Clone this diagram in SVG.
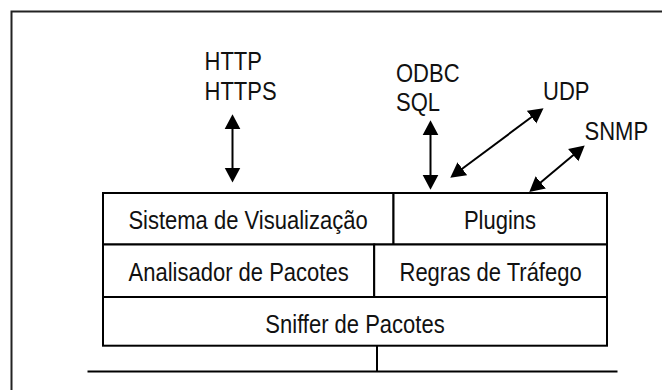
<svg xmlns="http://www.w3.org/2000/svg" width="662" height="390" viewBox="0 0 662 390">
  <style>
    .frame { fill: none; stroke: #222; stroke-width: 2; }
    .box { fill: #fff; stroke: #000; stroke-width: 2; }
    .wire { fill: none; stroke: #000; stroke-width: 2; }
    .lbl { font-family: "Liberation Sans", Arial, sans-serif; font-size: 22px; fill: #111; }
    .mid { text-anchor: middle; }
  </style>
  <defs>
    <marker id="head" markerUnits="userSpaceOnUse" markerWidth="16" markerHeight="18" viewBox="0 -9 16 18" refX="1" refY="0" orient="auto-start-reverse">
      <path d="M0,-8 L15,0 L0,8 z" fill="#000"/>
    </marker>
  </defs>

  <rect x="0" y="0" width="662" height="390" fill="#fff"/>
  <!-- outer frame, runs off the right and bottom edges -->
  <rect class="frame" x="11.5" y="11.5" width="700" height="420"/>

  <!-- protocol labels -->
  <g id="protocols">
    <text class="lbl" transform="translate(204.5,70) scale(1,1.17)">HTTP</text>
    <text class="lbl" transform="translate(204.5,99.5) scale(1,1.17)">HTTPS</text>
    <text class="lbl" transform="translate(396,81.5) scale(1,1.17)">ODBC</text>
    <text class="lbl" transform="translate(396,110.5) scale(1,1.17)">SQL</text>
    <text class="lbl" transform="translate(543,99.5) scale(1,1.17)">UDP</text>
    <text class="lbl" transform="translate(584.5,140) scale(1,1.17)">SNMP</text>
  </g>

  <!-- layer stack -->
  <g id="sistema-visualizacao">
    <rect class="box" x="103" y="193" width="290.5" height="51.5"/>
    <text class="lbl mid" transform="translate(248,229.3) scale(1,1.17)">Sistema de Visualização</text>
  </g>
  <g id="plugins">
    <rect class="box" x="393.5" y="193" width="213.5" height="51.5"/>
    <text class="lbl mid" transform="translate(500,229.3) scale(1,1.17)">Plugins</text>
  </g>
  <g id="analisador-pacotes">
    <rect class="box" x="103" y="244.5" width="271.2" height="52.5"/>
    <text class="lbl mid" transform="translate(238.6,281) scale(1,1.17)">Analisador de Pacotes</text>
  </g>
  <g id="regras-trafego">
    <rect class="box" x="374.2" y="244.5" width="232.8" height="52.5"/>
    <text class="lbl mid" transform="translate(490.6,281) scale(1,1.17)">Regras de Tráfego</text>
  </g>
  <g id="sniffer-pacotes">
    <rect class="box" x="103" y="297" width="504" height="48.7"/>
    <text class="lbl mid" transform="translate(355,332.7) scale(1,1.17)">Sniffer de Pacotes</text>
  </g>

  <!-- connectors -->
  <g id="connectors">
    <line class="wire" x1="232.5" y1="128.3" x2="232.5" y2="168.5" marker-start="url(#head)" marker-end="url(#head)"/>
    <line class="wire" x1="430.5" y1="134.3" x2="430.5" y2="175.7" marker-start="url(#head)" marker-end="url(#head)"/>
    <line class="wire" x1="461.5" y1="169.3" x2="532.3" y2="116.5" marker-start="url(#head)" marker-end="url(#head)"/>
    <line class="wire" x1="540" y1="183.1" x2="574" y2="154.6" marker-start="url(#head)" marker-end="url(#head)"/>
    <!-- network tap -->
    <line class="wire" x1="377" y1="345.7" x2="377" y2="371.5"/>
    <line class="wire" x1="87.5" y1="371.5" x2="617.5" y2="371.5"/>
  </g>
</svg>
